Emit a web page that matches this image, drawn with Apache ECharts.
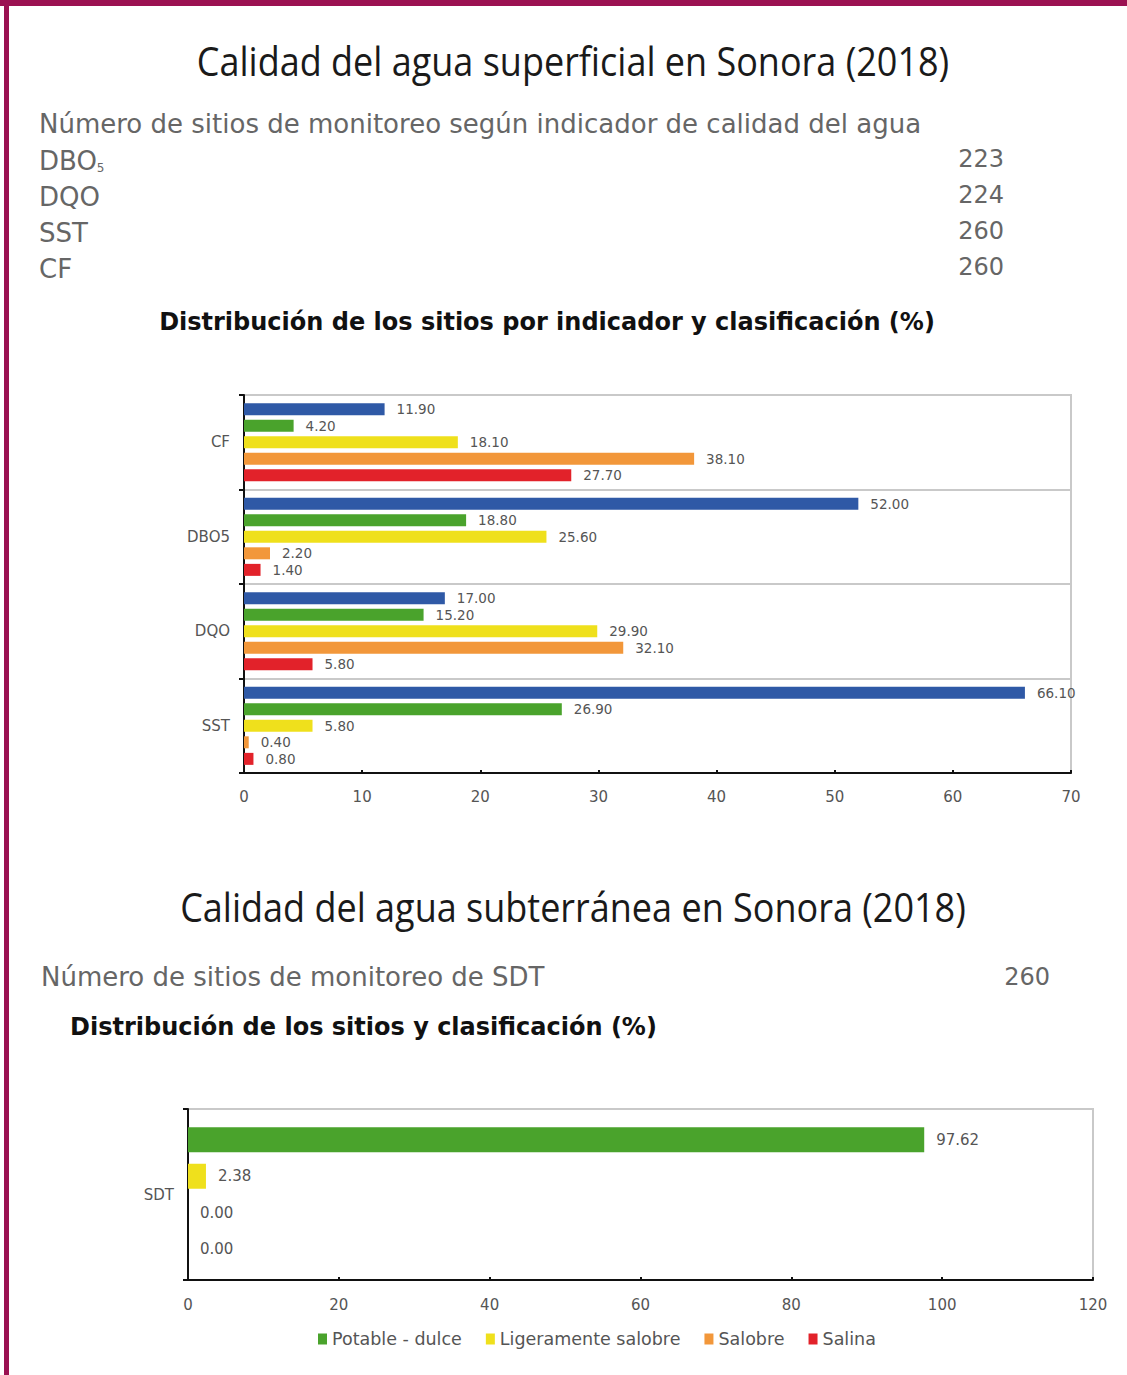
<!DOCTYPE html>
<html><head><meta charset="utf-8">
<script src="https://cdn.jsdelivr.net/npm/echarts@6/dist/echarts.min.js"></script>
<style>
html,body{margin:0;padding:0;background:#fff}
#c{width:1127px;height:1375px;position:absolute;left:0;top:0}
#bt{position:absolute;left:0;top:0;width:1127px;height:6px;background:#9b1152}
#bl{position:absolute;left:4px;top:0;width:5px;height:1375px;background:#9b1152}
</style></head><body>
<div id="c"></div><div id="bt"></div><div id="bl"></div>
<script>
// ---- data ----
const upperCategories = ['CF', 'DBO5', 'DQO', 'SST'];
const upperSeriesNames = ['Excelente', 'Buena calidad', 'Aceptable', 'Contaminada', 'Fuertemente contaminada'];
const excelente   = [11.90, 52.00, 17.00, 66.10];
const buena       = [4.20, 18.80, 15.20, 26.90];
const aceptable   = [18.10, 25.60, 29.90, 5.80];
const contaminada = [38.10, 2.20, 32.10, 0.40];
const fuerte      = [27.70, 1.40, 5.80, 0.80];

const lowerCategories = ['SDT'];
const lowerSeriesNames = ['Potable - dulce', 'Ligeramente salobre', 'Salobre', 'Salina'];
const potable     = [97.62];
const ligeramente = [2.38];
const salobre     = [0.00];
const salina      = [0.00];

const indicatorNames = ['DBO', 'DQO', 'SST', 'CF'];
const indicatorSubs  = ['5', '', '', ''];
const siteCounts     = [223, 224, 260, 260];
const sdtSites       = 260;

const upperAxis = { min: 0, max: 70, interval: 10 };
const lowerAxis = { min: 0, max: 120, interval: 20 };

// ---- styles ----
const FONT = '"DejaVu Sans", "Noto Sans", sans-serif';
const TITLE_FONT = '"Open Sans", "Noto Sans", sans-serif';
const upperColors = ['#2f59a6', '#4aa32c', '#efe01c', '#f2973a', '#e2222a'];
const lowerColors = ['#4aa32c', '#efe01c', '#f2973a', '#e2222a'];
const GRAY = '#555';
const LIGHT = '#666';

const chart = echarts.init(document.getElementById('c'), null, { renderer: 'svg' });

const labelCfg = {
  show: true, position: 'right', distance: 12, color: GRAY,
  fontFamily: FONT, fontSize: 13.5,
  formatter: p => Number(p.value).toFixed(2)
};

const upperData = [excelente, buena, aceptable, contaminada, fuerte];
const lowerData = [potable, ligeramente, salobre, salina];

const series = [];
upperData.forEach((d, i) => series.push({
  type: 'bar', name: upperSeriesNames[i], data: d, xAxisIndex: 0, yAxisIndex: 0,
  barWidth: 12, barGap: '38%', itemStyle: { color: upperColors[i] }, label: labelCfg
}));
lowerData.forEach((d, i) => series.push({
  type: 'bar', name: lowerSeriesNames[i], data: d, xAxisIndex: 1, yAxisIndex: 1,
  barWidth: 25, barGap: '46%', itemStyle: { color: lowerColors[i] },
  label: Object.assign({}, labelCfg, { fontSize: 15 })
}));

const axisLine = { show: true, lineStyle: { color: '#111', width: 2 } };
const axisLabel = { color: GRAY, fontFamily: FONT, fontSize: 15 };

// header texts
const graphic = [];
graphic.push({ type: 'text', x: 573, y: 60, scaleX: 0.9, style: { text: 'Calidad del agua superficial en Sonora (2018)', x: 0, y: 0, align: 'center', verticalAlign: 'middle', font: '40px ' + TITLE_FONT, fill: '#1a1a1a' } });
graphic.push({ type: 'text', style: { text: 'Número de sitios de monitoreo según indicador de calidad del agua', x: 39, y: 124, align: 'left', verticalAlign: 'middle', font: '26px ' + FONT, fill: LIGHT } });
indicatorNames.forEach((n, i) => {
  const y = 159 + i * 36;
  graphic.push({ type: 'text', style: {
    text: '{a|' + n + '}' + (indicatorSubs[i] ? '{s|' + indicatorSubs[i] + '}' : ''),
    x: 39, y: y, align: 'left', verticalAlign: 'middle',
    rich: {
      a: { fontFamily: FONT, fontSize: 26, fill: LIGHT, color: LIGHT, lineHeight: 30, verticalAlign: 'bottom' },
      s: { fontFamily: FONT, fontSize: 12, fill: LIGHT, color: LIGHT, lineHeight: 12, verticalAlign: 'bottom' }
    }
  } });
  graphic.push({ type: 'text', style: { text: String(siteCounts[i]), x: 1004, y: y, align: 'right', verticalAlign: 'middle', font: '24px ' + FONT, fill: LIGHT } });
});
graphic.push({ type: 'text', style: { text: 'Distribución de los sitios por indicador y clasificación (%)', x: 547, y: 322, align: 'center', verticalAlign: 'middle', font: 'bold 24px ' + FONT, fill: '#111' } });
graphic.push({ type: 'text', x: 573, y: 906, scaleX: 0.9, style: { text: 'Calidad del agua subterránea en Sonora (2018)', x: 0, y: 0, align: 'center', verticalAlign: 'middle', font: '40px ' + TITLE_FONT, fill: '#1a1a1a' } });
graphic.push({ type: 'text', style: { text: 'Número de sitios de monitoreo de SDT', x: 41, y: 977, align: 'left', verticalAlign: 'middle', font: '26px ' + FONT, fill: LIGHT } });
graphic.push({ type: 'text', style: { text: String(sdtSites), x: 1050, y: 977, align: 'right', verticalAlign: 'middle', font: '24px ' + FONT, fill: LIGHT } });
graphic.push({ type: 'text', style: { text: 'Distribución de los sitios y clasificación (%)', x: 70, y: 1027, align: 'left', verticalAlign: 'middle', font: 'bold 24px ' + FONT, fill: '#111' } });

chart.setOption({
  animation: false,
  backgroundColor: '#fff',
  graphic: graphic,
  grid: [
    { left: 244, top: 395, width: 827, height: 378, show: true, borderColor: '#c9c9c9', borderWidth: 2, containLabel: false },
    { left: 188, top: 1109, width: 905, height: 171, show: true, borderColor: '#c9c9c9', borderWidth: 2, containLabel: false }
  ],
  legend: {
    data: lowerSeriesNames, left: 313, top: 1325, icon: 'rect', itemWidth: 9, itemHeight: 11, itemGap: 24,
    textStyle: { color: GRAY, fontFamily: FONT, fontSize: 17.5 }, selectedMode: false
  },
  xAxis: [
    { type: 'value', gridIndex: 0, min: upperAxis.min, max: upperAxis.max, interval: upperAxis.interval,
      axisLine: axisLine, axisTick: { show: true, length: 3, inside: true, lineStyle: { color: '#111', width: 2 } },
      splitLine: { show: false }, axisLabel: Object.assign({ margin: 16 }, axisLabel) },
    { type: 'value', gridIndex: 1, min: lowerAxis.min, max: lowerAxis.max, interval: lowerAxis.interval,
      axisLine: axisLine, axisTick: { show: true, length: 3, inside: true, lineStyle: { color: '#111', width: 2 } },
      splitLine: { show: false }, axisLabel: Object.assign({ margin: 17 }, axisLabel) }
  ],
  yAxis: [
    { type: 'category', gridIndex: 0, data: upperCategories, inverse: true,
      axisLine: axisLine, axisTick: { show: true, length: 5, lineStyle: { color: '#111', width: 2 } },
      splitLine: { show: true, lineStyle: { color: '#c9c9c9', width: 2 } },
      axisLabel: Object.assign({ margin: 14 }, axisLabel) },
    { type: 'category', gridIndex: 1, data: lowerCategories, inverse: true,
      axisLine: axisLine, axisTick: { show: true, length: 5, lineStyle: { color: '#111', width: 2 } },
      splitLine: { show: false },
      axisLabel: Object.assign({ margin: 14 }, axisLabel) }
  ],
  series: series
});
</script>
</body></html>
